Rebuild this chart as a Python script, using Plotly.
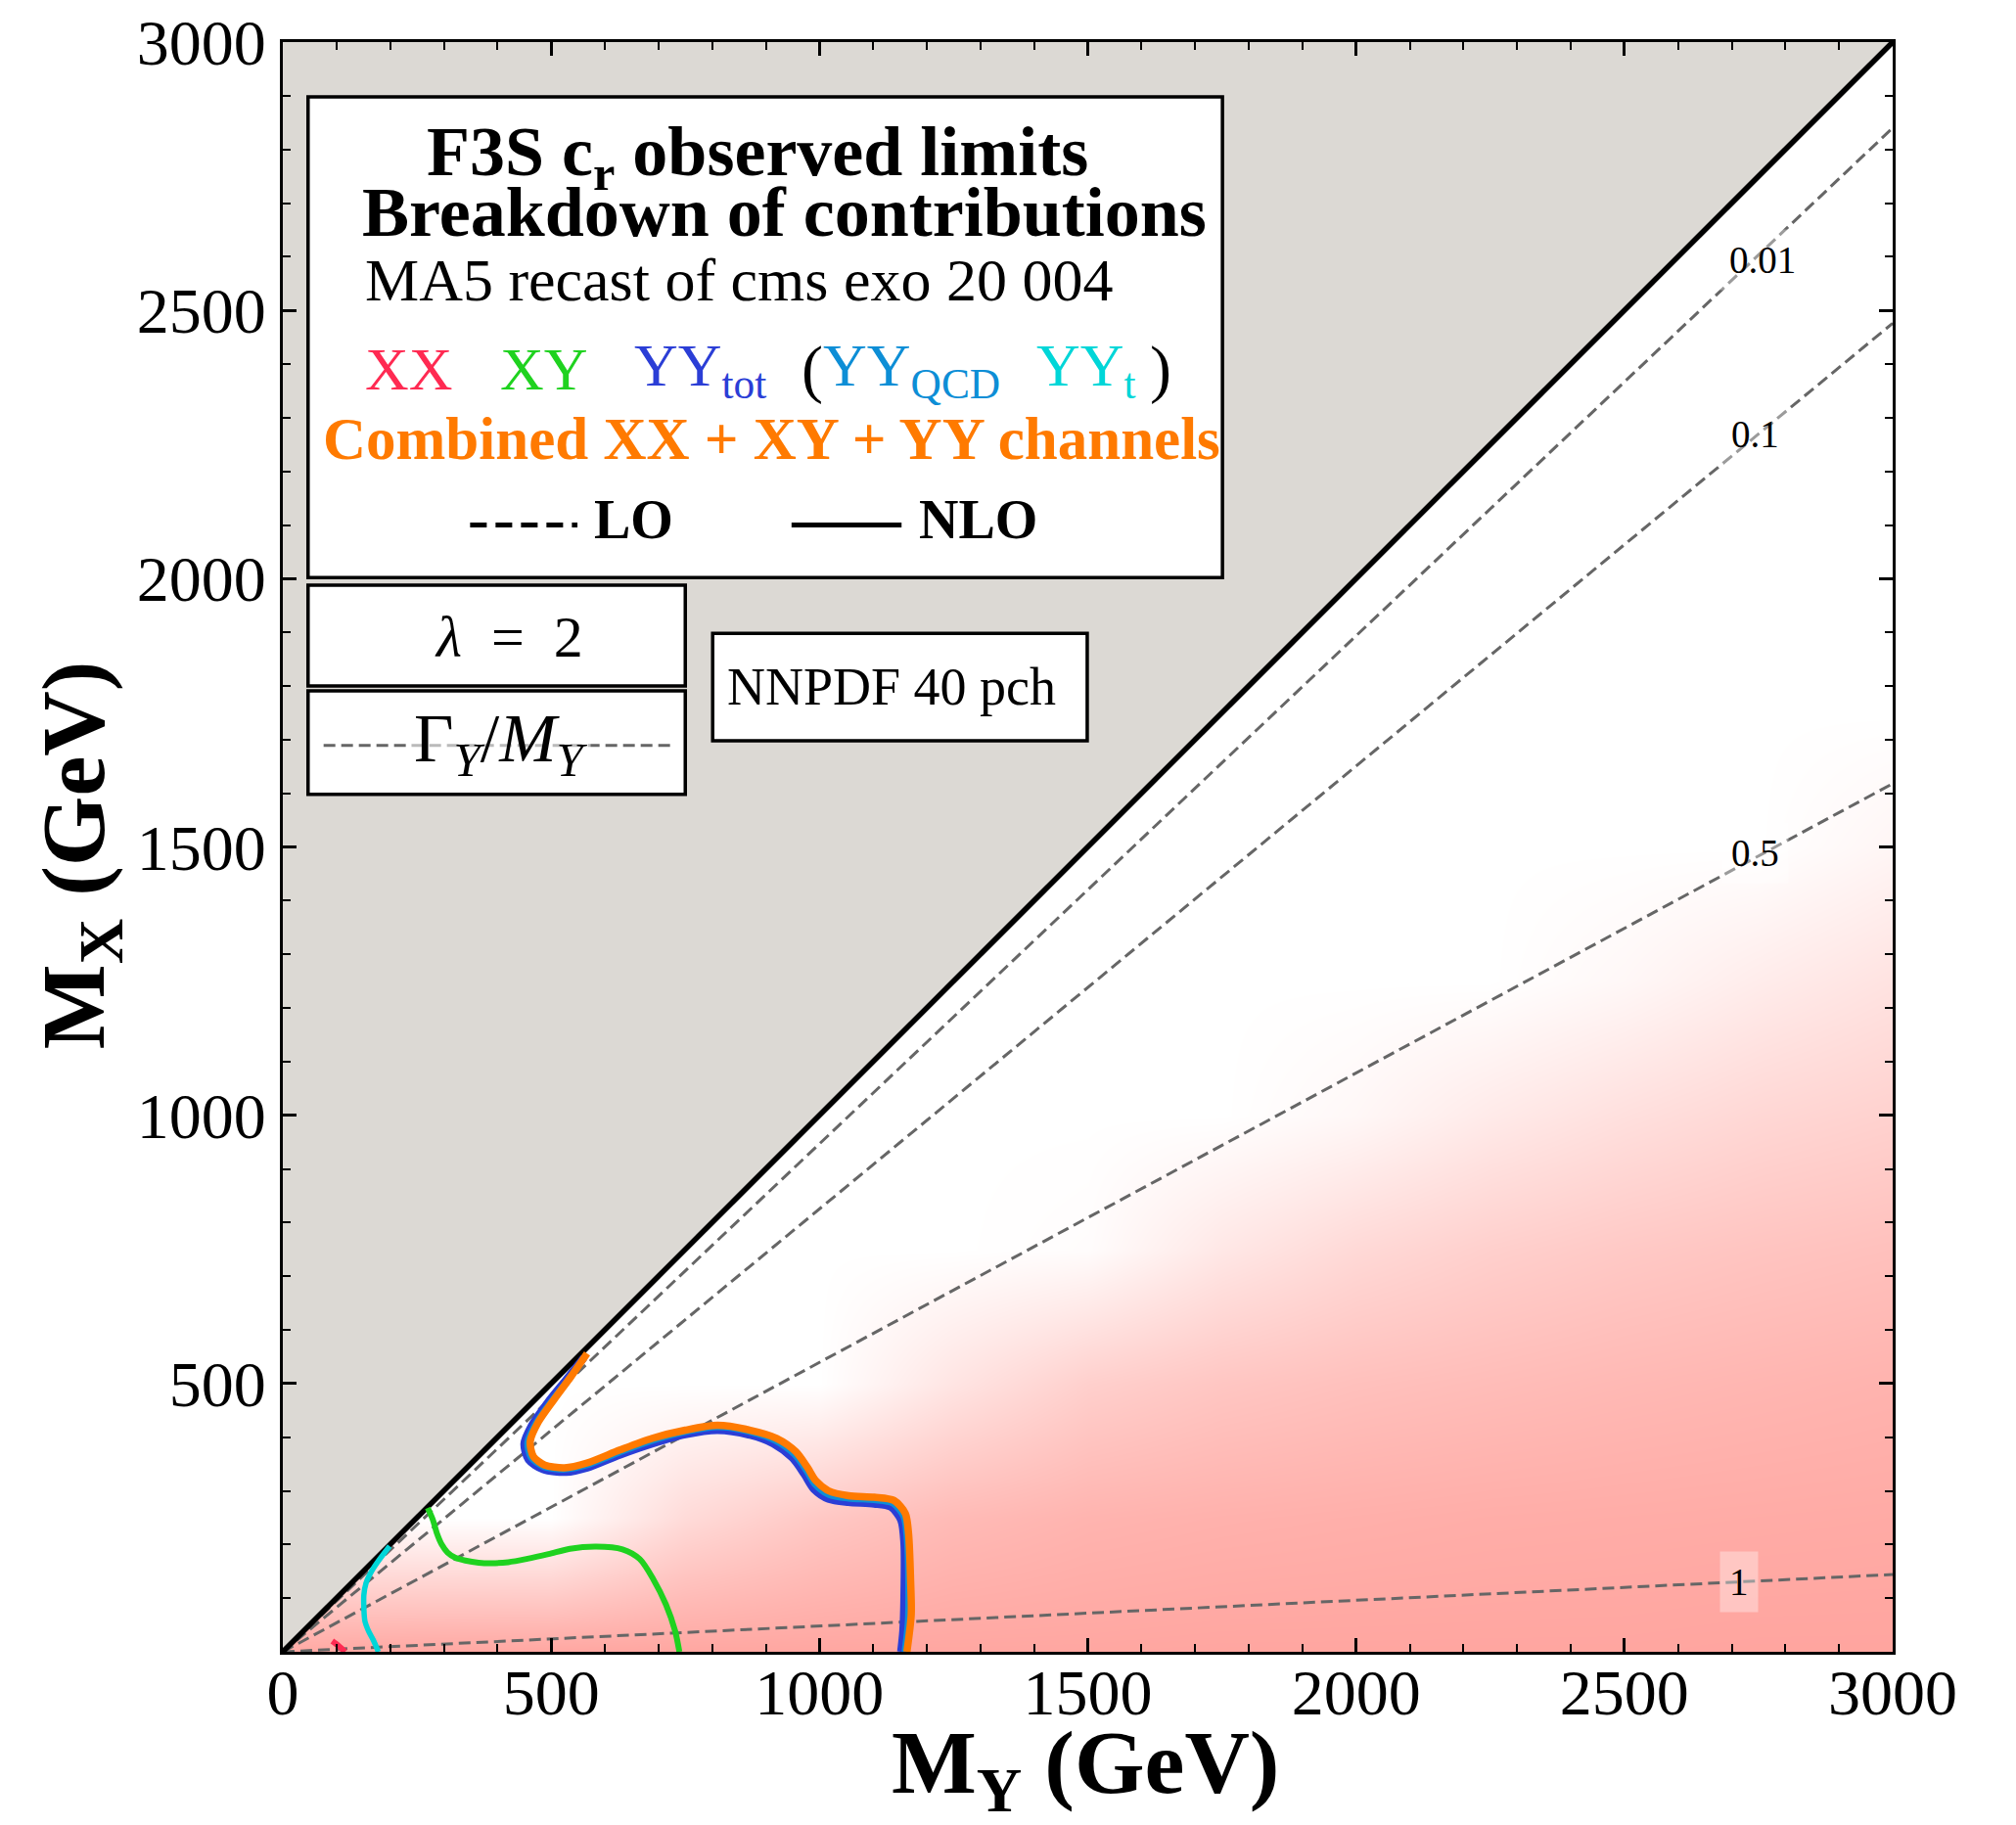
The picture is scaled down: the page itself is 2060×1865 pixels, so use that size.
import plotly.graph_objects as go

# ---------------- data ----------------
AXIS_MAX = 3000
x_tick_vals = [0, 500, 1000, 1500, 2000, 2500, 3000]
y_tick_vals = [500, 1000, 1500, 2000, 2500, 3000]

# kinematic limit M_X = M_Y
kin_my = [0, 3000]
kin_mx = [0, 3000]

# Gamma_Y / M_Y iso-lines (straight from origin) and their labels
gm_levels = ["0.01", "0.1", "0.5", "1"]
gm_line_my = [3000, 3000, 3000, 3000]
gm_line_mx = [2840, 2476, 1618, 144]
gm_label_my = [2757, 2743, 2743, 2714]
gm_label_mx = [2595, 2270, 1489, 130]

# background shading intensity (0 = white, 1 = salmon)
shade_my = [0, 250, 500, 750, 1000, 1250, 1500, 1750, 2000, 2250, 2500, 2750, 3000]
shade_mx = [0, 250, 500, 750, 1000, 1250, 1500, 1750, 2000, 2250, 2500, 2750, 3000]
shade = [
    [0.90, 0.92, 0.93, 0.93, 0.93, 0.93, 0.93, 0.94, 0.94, 0.94, 0.94, 0.95, 0.95],
    [0.00, 0.00, 0.00, 0.38, 0.58, 0.72, 0.79, 0.82, 0.84, 0.86, 0.87, 0.88, 0.89],
    [0.00, 0.00, 0.00, 0.00, 0.00, 0.28, 0.50, 0.60, 0.66, 0.70, 0.74, 0.77, 0.80],
    [0.00, 0.00, 0.00, 0.00, 0.00, 0.00, 0.03, 0.25, 0.40, 0.50, 0.57, 0.62, 0.66],
    [0.00, 0.00, 0.00, 0.00, 0.00, 0.00, 0.00, 0.00, 0.08, 0.22, 0.33, 0.42, 0.48],
    [0.00, 0.00, 0.00, 0.00, 0.00, 0.00, 0.00, 0.00, 0.00, 0.00, 0.08, 0.20, 0.30],
    [0.00, 0.00, 0.00, 0.00, 0.00, 0.00, 0.00, 0.00, 0.00, 0.00, 0.00, 0.00, 0.10],
    [0.00] * 13,
    [0.00] * 13,
    [0.00] * 13,
    [0.00] * 13,
    [0.00] * 13,
    [0.00] * 13,
]

# exclusion contours (M_Y on x, M_X on y)
xx_my = [92, 104, 116]
xx_mx = [20, 11, 0]

yyt_my = [199, 180, 166, 155, 151, 151, 153, 160, 169, 178]
yyt_mx = [197, 172, 151, 128, 106, 82, 57, 38, 21, 0]

xy_my = [270, 280, 287, 296, 307, 322, 340, 365, 389, 420, 454, 495, 535, 584, 633, 665, 690, 714, 731, 739]
xy_mx = [268, 245, 221, 200, 185, 175, 170, 166, 165, 167, 173, 182, 192, 196, 191, 173, 136, 88, 39, 0]

yytot_my = [561, 528, 494, 464, 450, 458, 485, 528, 567, 628, 689, 750, 810, 871, 914, 950, 972, 990, 1017, 1054, 1102, 1133, 1152, 1158, 1158, 1156, 1152]
yytot_mx = [548, 507, 465, 422, 388, 358, 340, 335, 343, 367, 388, 405, 413, 404, 388, 361, 331, 303, 285, 279, 276, 270, 246, 203, 100, 39, 0]

yyqcd_my = [564, 533, 500, 470, 455, 462, 486, 526, 567, 628, 689, 750, 810, 871, 917, 953, 975, 991, 1017, 1054, 1102, 1136, 1156, 1162, 1165, 1164, 1158]
yyqcd_mx = [552, 510, 468, 425, 390, 361, 344, 339, 347, 371, 393, 409, 418, 409, 393, 367, 337, 311, 292, 285, 282, 276, 252, 212, 115, 54, 0]

comb_my = [567, 537, 506, 476, 461, 467, 488, 525, 567, 628, 689, 750, 810, 871, 920, 956, 978, 993, 1017, 1054, 1102, 1139, 1160, 1166, 1170, 1171, 1163]
comb_mx = [556, 513, 471, 428, 392, 364, 348, 343, 352, 376, 398, 413, 422, 413, 398, 373, 343, 319, 300, 291, 288, 282, 258, 221, 130, 69, 0]

# ---------------- style ----------------
SERIF = "Liberation Serif"
C_XX = "#ff2a52"
C_XY = "#1fd21f"
C_TOT = "#2b3ed6"
C_QCD = "#0d8ed6"
C_YYT = "#00d6d8"
C_COMB = "#ff7a00"
C_DASH = "#666666"
C_GRAY = "#dcd9d4"

fig = go.Figure()

fig.add_trace(go.Heatmap(
    x=shade_my, y=shade_mx, z=shade, zmin=0, zmax=1, zsmooth="best",
    colorscale=[[0, "#ffffff"], [1, "#ffa09a"]], showscale=False, hoverinfo="skip"))

# forbidden region above M_X = M_Y
fig.add_trace(go.Scatter(
    x=[kin_my[0], kin_my[1], kin_my[0]], y=[kin_mx[0], kin_mx[1], kin_mx[1]],
    mode="lines", fill="toself", fillcolor=C_GRAY,
    line=dict(width=0, color="rgba(0,0,0,0)"), hoverinfo="skip", showlegend=False))

for i in range(len(gm_levels)):
    fig.add_trace(go.Scatter(
        x=[0, gm_line_my[i]], y=[0, gm_line_mx[i]], mode="lines",
        line=dict(color=C_DASH, width=3, dash="12px,6px"), hoverinfo="skip", showlegend=False))

fig.add_trace(go.Scatter(x=kin_my, y=kin_mx, mode="lines",
                         line=dict(color="black", width=5.5), showlegend=False))

def curve(xs, ys, color, width):
    fig.add_trace(go.Scatter(x=xs, y=ys, mode="lines",
                             line=dict(color=color, width=width, shape="spline", smoothing=0.8),
                             showlegend=False))

curve(xx_my, xx_mx, C_XX, 6)
curve(yyt_my, yyt_mx, C_YYT, 5.5)
curve(xy_my, xy_mx, C_XY, 6)
curve(yytot_my, yytot_mx, C_TOT, 8)
curve(yyqcd_my, yyqcd_mx, C_QCD, 5.5)
curve(comb_my, comb_mx, C_COMB, 7.5)

# ---------------- boxes ----------------
shapes = []
def box(x0, x1, y0, y1):
    shapes.append(dict(type="rect", xref="x", yref="y", x0=x0, x1=x1, y0=y0, y1=y1,
                       fillcolor="white", line=dict(color="black", width=3.5), layer="above"))

box(47, 1751, 2002, 2898)
box(47, 750, 1800, 1988)
box(47, 750, 1598, 1791)
box(801, 1499, 1698, 1898)

# LO / NLO samples
shapes.append(dict(type="line", xref="x", yref="y", x0=349, x1=549, y0=2100, y1=2100,
                   line=dict(color="black", width=5, dash="17px,9px"), layer="above"))
shapes.append(dict(type="line", xref="x", yref="y", x0=948, x1=1153, y0=2100, y1=2100,
                   line=dict(color="black", width=5), layer="above"))
# Gamma/M sample
shapes.append(dict(type="line", xref="x", yref="y", x0=76, x1=724, y0=1689, y1=1689,
                   line=dict(color=C_DASH, width=3, dash="12px,6px"), layer="above"))

ann = []
def text(x, y, s, size, color="black", xanchor="center", bg=None, pad=2):
    d = dict(x=x, y=y, xref="x", yref="y", text=s, showarrow=False, xanchor=xanchor,
             yanchor="middle", font=dict(family=SERIF, size=size, color=color))
    if bg:
        d["bgcolor"] = bg
        d["borderpad"] = pad
    ann.append(d)

text(885, 2787, "<b>F3S c<sub>r</sub> observed limits</b>", 72)
text(934, 2682, "<b>Breakdown of contributions</b>", 72)
text(150, 2556, "MA5 recast of cms exo 20 004", 62, xanchor="left")
text(150, 2390, "XX", 62, C_XX, "left")
text(401, 2390, "XY", 62, C_XY, "left")
text(651, 2390, "YY<sub>tot</sub>", 62, C_TOT, "left")
text(962, 2390, "(", 66, "black", "left")
text(1003, 2390, "YY<sub>QCD</sub>", 62, C_QCD, "left")
text(1400, 2390, "YY<sub>t</sub>", 62, C_YYT, "left")
text(1612, 2390, ")", 66, "black", "left")
text(911, 2261, "<b>Combined XX + XY + YY channels</b>", 61, C_COMB)
text(577, 2110, "<b>LO</b>", 56, xanchor="left")
text(1182, 2110, "<b>NLO</b>", 56, xanchor="left")
text(422, 1892, "<i>λ</i>\u2002=\u20022", 60)
text(407, 1692, "Γ<sub><i>Y</i></sub>/<i>M</i><sub><i>Y</i></sub>", 70, bg="rgba(255,255,255,0.55)")
text(1134, 1799, "NNPDF 40 pch", 54)

for i in range(len(gm_levels)):
    text(gm_label_my[i], gm_label_mx[i], gm_levels[i], 39, bg="rgba(255,255,255,0.35)", pad=9)

# axis titles
ann.append(dict(x=0.4985, y=-0.0725, xref="paper", yref="paper", showarrow=False,
                text="<b>M<sub>Y</sub> (GeV)</b>", xanchor="center", yanchor="middle",
                font=dict(family=SERIF, size=92, color="black")))
ann.append(dict(x=-0.1264, y=0.4948, xref="paper", yref="paper", showarrow=False,
                text="<b>M<sub>X</sub> (GeV)</b>", xanchor="center", yanchor="middle",
                textangle=-90, font=dict(family=SERIF, size=92, color="black")))

axis_common = dict(
    range=[0, AXIS_MAX], ticks="inside", ticklen=14, tickwidth=2.5, tickcolor="black",
    showline=True, linewidth=3, linecolor="black", mirror="allticks",
    showgrid=False, zeroline=False, ticklabeloverflow="allow", automargin=False,
    tickfont=dict(family=SERIF, size=66, color="black"),
    minor=dict(ticks="inside", ticklen=8, tickwidth=2, tickcolor="black",
               tickmode="linear", tick0=0, dtick=100, showgrid=False),
)

# page has an 8 px body margin: keep the plot area at 289..1934 x 43..1688
fig.update_layout(
    width=2052, height=1857,
    margin=dict(l=281, r=126, t=35, b=177, autoexpand=False),
    paper_bgcolor="white", plot_bgcolor="white",
    showlegend=False,
    shapes=shapes, annotations=ann,
    xaxis=dict(axis_common, tickmode="array", tickvals=x_tick_vals,
               ticktext=[str(v) for v in x_tick_vals], ticklabelstandoff=-18),
    yaxis=dict(axis_common, tickmode="array", tickvals=y_tick_vals,
               ticktext=[str(v) for v in y_tick_vals], ticklabelstandoff=1),
)

fig.write_html("out.html")
